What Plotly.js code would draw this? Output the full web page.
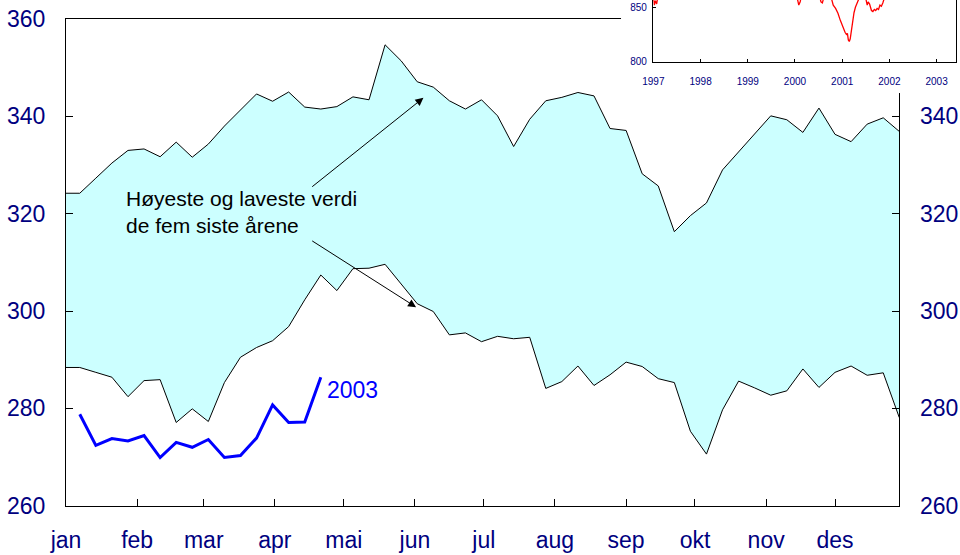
<!DOCTYPE html>
<html>
<head>
<meta charset="utf-8">
<script src="https://cdn.plot.ly/plotly-3.0.1.min.js"></script>
<style>html,body{margin:0;padding:0;background:#fff;}#chart{width:960px;height:555px;}</style>
</head>
<body>
<div id="chart"></div>
<script>
// ---- data ----
const monthLabels = ['jan','feb','mar','apr','mai','jun','jul','aug','sep','okt','nov','des'];
const monthStartDay = [0,31,60,91,121,152,182,213,244,274,305,335];
const weeks = [0,1,2,3,4,5,6,7,8,9,10,11,12,13,14,15,16,17,18,19,20,21,22,23,24,25,26,27,28,29,30,31,32,33,34,35,36,37,38,39,40,41,42,43,44,45,46,47,48,49,50,51,52];
const maxFiveYears = [324.2,324.2,327.3,330.4,333.0,333.3,331.7,334.7,331.6,334.3,338.0,341.2,344.6,343.1,345.0,341.9,341.5,342.0,344.0,343.4,354.7,351.4,347.1,346.0,343.2,341.5,343.4,340.1,333.8,339.4,343.2,343.9,344.9,344.2,337.5,337.1,328.2,325.7,316.3,319.6,322.2,329.0,332.7,336.4,340.1,339.3,336.7,341.7,336.3,334.8,338.4,339.7,336.9];
const minFiveYears = [288.4,288.4,287.4,286.4,282.4,285.7,285.9,277.1,279.9,277.3,285.3,290.5,292.5,293.9,296.8,302.3,307.4,304.2,308.7,308.8,309.6,305.6,301.5,299.9,295.1,295.5,293.7,294.8,294.3,294.6,284.1,285.5,288.7,284.7,286.9,289.5,288.6,286.1,285.3,275.3,270.6,279.7,285.6,284.2,282.7,283.6,288.1,284.3,287.4,288.7,286.8,287.3,278.1];
const weeks2003 = [1,2,3,4,5,6,7,8,9,10,11,12,13,14,15,16];
const values2003 = [278.8,272.4,273.8,273.3,274.4,269.9,273.0,272.0,273.6,269.9,270.3,273.9,280.7,277.1,277.2,286.4];
const yTicks = [260,280,300,320,340,360];

const insetYear = [1997.00,1997.02,1997.04,1997.07,1997.10,1997.40,1997.80,1998.20,1998.60,1999.00,1999.40,1999.80,2000.00,2000.05,2000.08,2000.11,2000.14,2000.30,2000.50,2000.55,2000.58,2000.61,2000.68,2000.76,2000.81,2000.86,2000.91,2000.96,2001.00,2001.03,2001.06,2001.09,2001.11,2001.13,2001.15,2001.17,2001.20,2001.23,2001.25,2001.28,2001.31,2001.35,2001.42,2001.50,2001.53,2001.55,2001.58,2001.62,2001.65,2001.68,2001.71,2001.74,2001.77,2001.80,2001.83,2001.86,2001.89,2001.95,2002.20,2002.60,2003.00,2003.20];
const insetValue = [858,852,856,853,862,885,895,900,890,880,875,870,866,858,852,855,862,872,864,855,854,859,866,860,852,849,844.5,838,833,829,827,825,826,820,818.5,821,832,840,845,850,854,858,865,858,852,855,853,847,846,848,847,849,848,852,851,854,858,866,875,880,878,882];
const insetYearTicks = [1997,1998,1999,2000,2001,2002,2003];
const insetValueTicks = [800,850];

// week number -> day of year (first point at 1 Jan, then weekly)
const toDay = w => (w === 0 ? 0 : 7 * w - 1);
const days = weeks.map(toDay);
const days2003 = weeks2003.map(toDay);

const navy = '#000080';
const fontFam = 'Arial, "Liberation Sans", sans-serif';

const traces = [
  {x: days, y: minFiveYears, type: 'scatter', mode: 'lines', line: {color: '#000', width: 1}, xaxis: 'x', yaxis: 'y'},
  {x: days, y: maxFiveYears, type: 'scatter', mode: 'lines', fill: 'tonexty', fillcolor: '#CCFFFF', line: {color: '#000', width: 1}, xaxis: 'x', yaxis: 'y'},
  {x: days2003, y: values2003, type: 'scatter', mode: 'lines', line: {color: '#0000FF', width: 3}, xaxis: 'x', yaxis: 'y'},
  {x: [], y: [], type: 'scatter', mode: 'lines', xaxis: 'x', yaxis: 'y2'},
  {x: [], y: [], type: 'scatter', mode: 'lines', xaxis: 'x2', yaxis: 'y3'},
  {x: insetYear, y: insetValue, type: 'scatter', mode: 'lines', line: {color: '#FF0000', width: 1.3}, xaxis: 'x3', yaxis: 'y4'}
];

const mainY = {
  range: [260, 360], tickvals: yTicks, ticks: 'inside', ticklen: 7, tickcolor: '#000',
  showline: true, linecolor: '#000', linewidth: 1, showgrid: false, zeroline: false,
  tickfont: {size: 23, color: navy, family: fontFam}, ticklabelstandoff: 15,
  domain: [0.08883, 0.96577], fixedrange: true
};

const layout = {
  width: 960, height: 555,
  margin: {l: 0, r: 0, t: 0, b: 0},
  paper_bgcolor: '#fff', plot_bgcolor: '#fff',
  showlegend: false, hovermode: false,
  font: {family: fontFam, color: navy},
  xaxis: {
    domain: [0.06875, 0.93677], range: [0, 363], tickvals: monthStartDay, ticktext: monthLabels,
    ticks: 'inside', ticklen: 7, tickcolor: '#000', showline: true, linecolor: '#000', linewidth: 1,
    mirror: true, showgrid: false, zeroline: false, anchor: 'y',
    tickfont: {size: 23, color: navy, family: fontFam}, ticklabelstandoff: 14, fixedrange: true
  },
  yaxis: Object.assign({}, mainY, {anchor: 'x', side: 'left'}),
  yaxis2: Object.assign({}, mainY, {overlaying: 'y', side: 'right', anchor: 'x'}),
  xaxis2: {domain: [0.6469, 1], range: [0, 1], anchor: 'y3', showline: false, showticklabels: false, ticks: '', showgrid: false, zeroline: false, fixedrange: true},
  yaxis3: {domain: [0.8324, 1], range: [0, 1], anchor: 'x2', showline: false, showticklabels: false, ticks: '', showgrid: false, zeroline: false, fixedrange: true},
  xaxis3: {
    domain: [0.6806, 0.9958], range: [1997, 2003.41], anchor: 'y4', tickvals: insetYearTicks,
    ticks: 'inside', ticklen: 3, tickcolor: '#000', showline: true, linecolor: '#000', linewidth: 1.5,
    showgrid: false, zeroline: false, tickfont: {size: 10, color: navy, family: fontFam}, ticklabelstandoff: 10, fixedrange: true
  },
  yaxis4: {
    domain: [0.8889, 1], range: [800, 856.7], anchor: 'x3', tickvals: insetValueTicks,
    ticks: 'inside', ticklen: 3, tickcolor: '#000', showline: true, linecolor: '#000', linewidth: 1.5, mirror: true,
    showgrid: false, zeroline: false, tickfont: {size: 10, color: navy, family: fontFam}, ticklabelstandoff: 3, fixedrange: true
  },
  annotations: [
    {x: 25.3, y: 320.3, xref: 'x', yref: 'y', xanchor: 'left', yanchor: 'middle', align: 'left', showarrow: false,
     text: 'Høyeste og laveste verdi<br>de fem siste årene', font: {size: 21, color: '#000', family: fontFam}},
    {x: 113, y: 283.8, xref: 'x', yref: 'y', xanchor: 'left', yanchor: 'middle', showarrow: false,
     text: '2003', font: {size: 23, color: '#0000FF', family: fontFam}},
    {x: 155.7, y: 343.8, ax: 106.6, ay: 325.3, xref: 'x', yref: 'y', axref: 'x', ayref: 'y', text: '',
     showarrow: true, arrowhead: 2, arrowsize: 1.6, arrowwidth: 1, arrowcolor: '#000'},
    {x: 152.5, y: 300.8, ax: 106.6, ay: 314.6, xref: 'x', yref: 'y', axref: 'x', ayref: 'y', text: '',
     showarrow: true, arrowhead: 2, arrowsize: 1.6, arrowwidth: 1, arrowcolor: '#000'}
  ]
};

Plotly.newPlot('chart', traces, layout, {staticPlot: true, displayModeBar: false});
</script>
</body>
</html>
